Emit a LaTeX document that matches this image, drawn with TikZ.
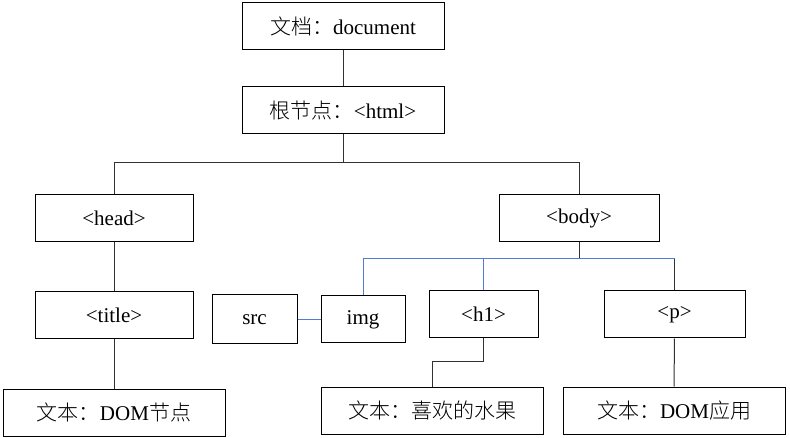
\documentclass[tikz,border=0pt]{standalone}
\usepackage{fontspec}
\setmainfont{Liberation Serif}
\newfontfamily\cjk{Noto Sans CJK SC}[UprightFont=* Light]
\usetikzlibrary{positioning}
\definecolor{linkblue}{RGB}{80,125,205}
\definecolor{linkgray}{RGB}{50,50,50}
\tikzset{
  domnode/.style={draw=black, line width=1pt, inner sep=0pt, minimum height=47pt,
    font=\fontsize{21}{23}\selectfont},
  tree/.style={draw=linkgray, line width=1pt},
  attr/.style={draw=linkblue, line width=1pt},
}
\begin{document}
\begin{tikzpicture}[x=1pt, y=-1pt]
  \useasboundingbox (0,0) rectangle (790,438);
  \node [domnode, minimum width=202pt] (doc) at (343,26.5) {{\cjk 文档：}document};
  \node [domnode, minimum width=202pt, below=36pt of doc] (html) {{\cjk 根节点：}<html>};
  \node [domnode, minimum width=158pt] (head) at (114,218.5) {<head>};
  \node [domnode, minimum width=160pt] (body) at (579,218.5) {<body>};
  \node [domnode, minimum width=158pt, below=49pt of head] (title) {<title>};
  \node [domnode, minimum width=222pt, below=49pt of title] (txtdom) {{\cjk 文本：}DOM{\cjk 节点}};
  \node [domnode, minimum width=84pt] (img) at (363,319.5) {img};
  \node [domnode, minimum width=85pt, minimum height=49pt, left=23pt of img] (src) {src};
  \node [domnode, minimum width=109pt] (h1) at (483.5,314.5) {<h1>};
  \node [domnode, minimum width=141pt] (p) at (674.5,314.5) {<p>};
  \node [domnode, minimum width=222pt] (txtfruit) at (432,410.5) {{\cjk 文本：喜欢的水果}};
  \node [domnode, minimum width=222pt] (txtapp) at (674,410.5) {{\cjk 文本：}DOM{\cjk 应用}};
  \coordinate (bushtml) at (343,163);
  \coordinate (busbody) at (579,259);
  \coordinate (pjoin) at (p.north |- busbody);
  \coordinate (hjoin) at (483.5,362);
  \draw [tree] (doc) -- (html);
  \draw [tree] (html) -- (bushtml) -| (head);
  \draw [tree] (bushtml) -| (body);
  \draw [tree] (head) -- (title);
  \draw [tree] (title) -- (txtdom);
  \draw [tree] (body) -- (busbody);
  \draw [attr] (busbody) -| (img);
  \draw [attr] (busbody) -| (h1);
  \draw [attr] (busbody) -- (pjoin);
  \draw [tree] (pjoin) -- (p);
  \draw [attr] (img.west) -- (img.west -| src.east);
  \draw [tree] (h1) -- (hjoin) -| (txtfruit);
  \draw [tree] (p) -- (txtapp);
\end{tikzpicture}
\end{document}
